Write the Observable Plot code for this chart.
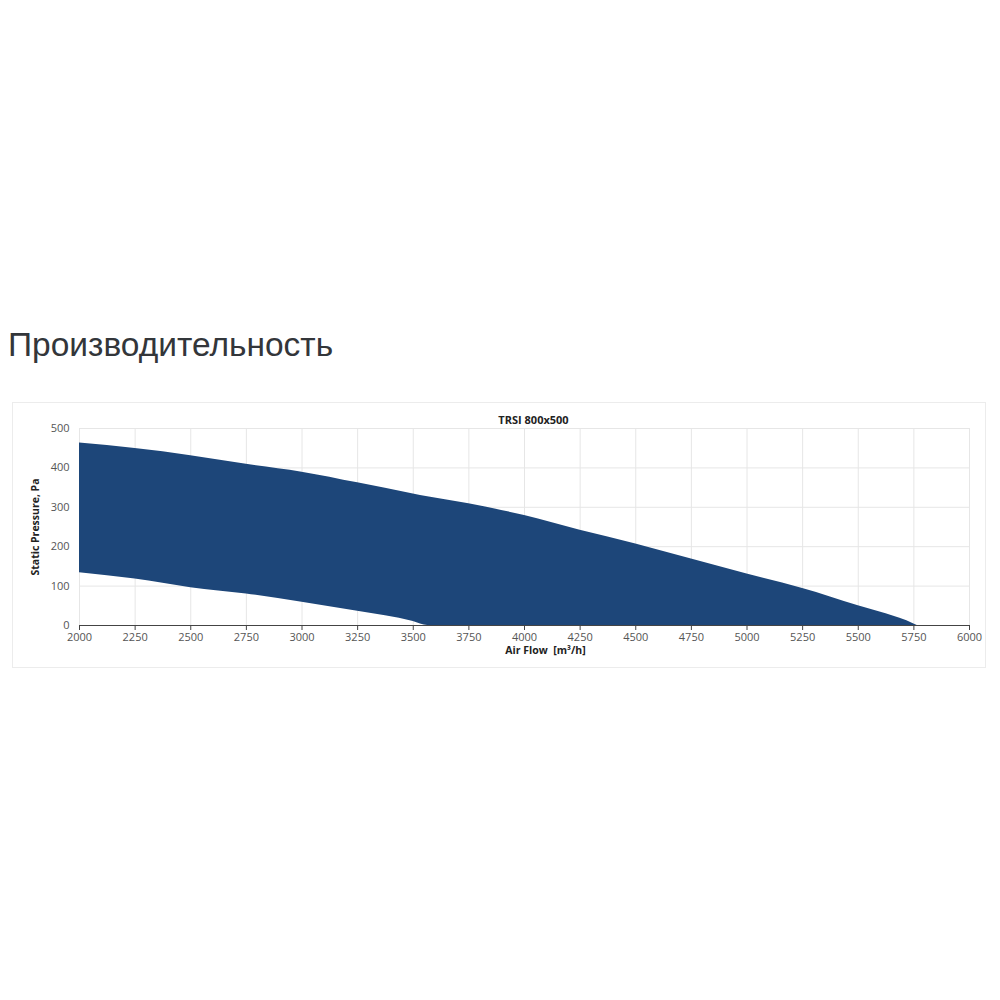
<!DOCTYPE html>
<html>
<head>
<meta charset="utf-8">
<script src="https://cdn.jsdelivr.net/npm/d3@7"></script>
<script src="https://cdn.jsdelivr.net/npm/@observablehq/plot@0.6"></script>
<style>
  body { margin: 0; background: #fff; width: 1000px; height: 1000px; position: relative; overflow: hidden; }
  #heading { position: absolute; left: 8px; top: 325px; font-family: "Liberation Sans", Arial, sans-serif; font-size: 33.5px; line-height: 40px; color: #33363a; }
  #card { position: absolute; left: 12px; top: 402px; width: 974px; height: 266px; border: 1px solid #ececec; box-sizing: border-box; }
  #chart { position: absolute; left: 0; top: 400px; }
</style>
</head>
<body>
<div id="heading">Производительность</div>
<div id="card"></div>
<div id="chart"></div>
<script>
const chartTitle = "TRSI 800x500";
const xLabel = "Air Flow  [m³/h]";
const yLabel = "Static Pressure, Pa";
const airFlow  = [2000, 2250, 2500, 2750, 3000, 3250, 3500, 3565, 3750, 4000, 4250, 4500, 4750, 5000, 5250, 5500, 5750, 5765];
const upperPa  = [463, 449, 431, 409, 389, 362, 334, 327, 309, 279, 242, 207, 169, 131, 94, 50, 4, 0];
const lowerPa  = [134, 118, 96, 80, 59, 36, 10, 0, 0, 0, 0, 0, 0, 0, 0, 0, 0, 0];
const xTicks = [2000, 2250, 2500, 2750, 3000, 3250, 3500, 3750, 4000, 4250, 4500, 4750, 5000, 5250, 5500, 5750, 6000];
const yTicks = [0, 100, 200, 300, 400, 500];

const data = airFlow.map((x, i) => ({x, lo: lowerPa[i], hi: upperPa[i]}));

const plot = Plot.plot({
  width: 1000,
  height: 275,
  marginLeft: 79,
  marginRight: 31,
  marginTop: 28,
  marginBottom: 50,
  style: {fontFamily: "'Open Sans', sans-serif", fontSize: "11px", color: "#555", background: "transparent"},
  x: {domain: [2000, 6000], ticks: xTicks, label: null},
  y: {domain: [0, 500], ticks: yTicks, label: null},
  marks: [
    Plot.gridX(xTicks, {stroke: "#e6e6e6", strokeOpacity: 1}),
    Plot.gridY(yTicks, {stroke: "#e6e6e6", strokeOpacity: 1}),
    Plot.areaY(data, {x: "x", y1: "lo", y2: "hi", fill: "#1d4679", curve: "monotone-x"}),
    Plot.axisX(xTicks, {tickSize: 5, tickPadding: 3, stroke: "#444", fill: "#555", fontSize: 11, tickFormat: d => String(d)}),
    Plot.ruleY([0], {stroke: "#444", strokeWidth: 1}),
    Plot.axisY(yTicks, {tickSize: 0, tickPadding: 10, fill: "#555", fontSize: 11}),
    Plot.text([chartTitle], {frameAnchor: "top", dy: -12, dx: 9, fontWeight: "bold", fontSize: 11, fill: "#222"}),
    Plot.text([yLabel], {frameAnchor: "left", textAnchor: "middle", dx: -44, rotate: -90, fontWeight: "bold", fontSize: 10.5, fill: "#222"}),
    Plot.text([xLabel], {frameAnchor: "bottom", textAnchor: "middle", dy: 28, dx: 21, fontWeight: "bold", fontSize: 10.5, fill: "#222"})
  ]
});
document.getElementById("chart").appendChild(plot);
</script>
</body>
</html>
